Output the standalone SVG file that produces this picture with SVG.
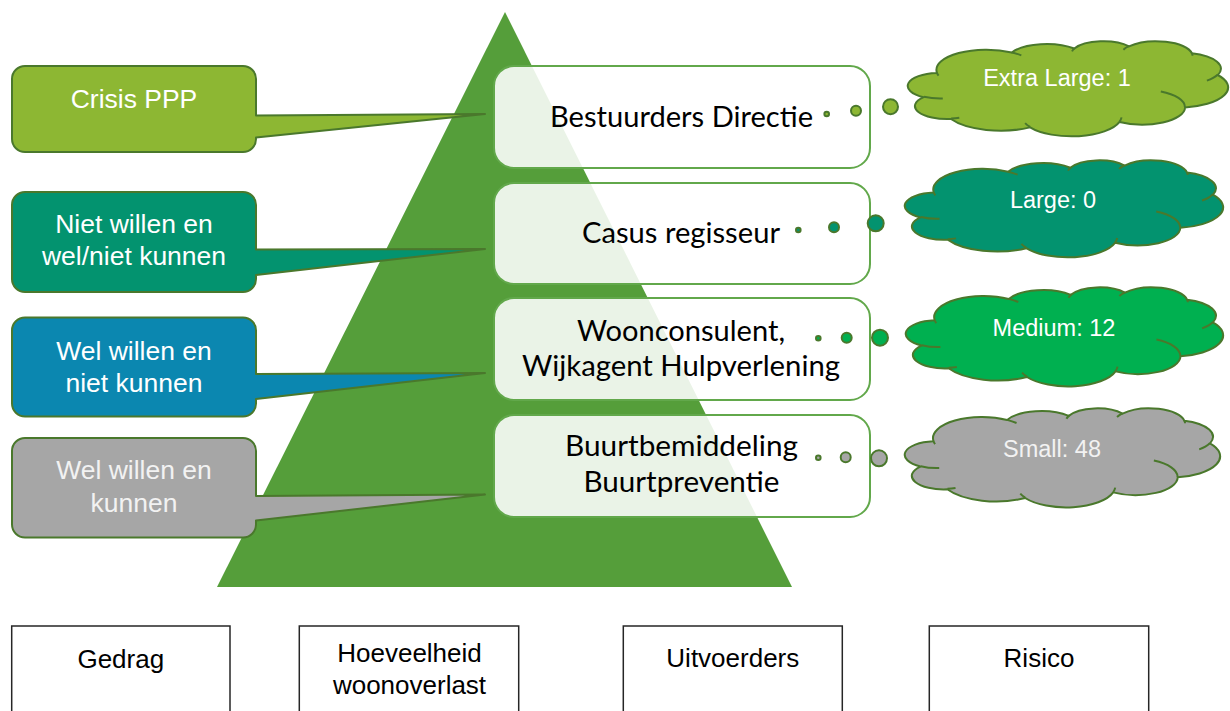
<svg xmlns="http://www.w3.org/2000/svg" width="1230" height="711" viewBox="0 0 1230 711">
<style>
.callout{stroke:#4A782C;stroke-width:2;stroke-linejoin:round}
.ctext{font-family:"Liberation Sans",Arial,sans-serif;font-size:26.5px;fill:#FFFFFF;text-anchor:middle}
.box{fill:#FFFFFF;fill-opacity:0.88;stroke:#62A84B;stroke-width:2}
.btext{font-family:Lato,"Open Sans",sans-serif;font-size:29px;fill:#000000;text-anchor:middle}
.cloud{stroke:#4A782C;stroke-width:2;stroke-linejoin:round}
.inner{fill:none;stroke:#4A782C;stroke-width:2}
.ktext{font-family:"Liberation Sans",Arial,sans-serif;font-size:23.5px;fill:#FFFFFF;text-anchor:middle}
.dot{stroke:#4A782C;stroke-width:2}
.lbl{fill:#FFFFFF;stroke:#262626;stroke-width:1.5}
.ltext{font-family:"Liberation Sans",Arial,sans-serif;font-size:26px;fill:#000000;text-anchor:middle}
.xl{fill:#8DB733}.lg{fill:#03936F}.md{fill:#00B050}.sm{fill:#A6A6A6}.bl{fill:#0B87B0}
</style>
<defs>
<path id="cloudShape" vector-effect="non-scaling-stroke" d="M3900 14370 A6753 9190 0 0 1 14005 5202 A5333 7267 0 0 1 22455 3433 A4365 5945 0 0 1 29833 2483 A4857 6595 0 0 1 38318 5579 A5333 7273 0 0 1 41819 15463 A6775 9220 0 0 1 37403 30204 A5785 7867 0 0 1 28555 36814 A6752 9215 0 0 1 16480 39266 A7720 10543 0 0 1 5804 35472 A4360 5918 0 0 1 2113 25549 A4345 5945 0 0 1 3863 14505 Z"/>
<path id="cloudInner" vector-effect="non-scaling-stroke" d="M4693 26177 A4345 5945 0 0 1 2160 25380 M6928 34899 A4360 5918 0 0 1 5820 35280 M16478 39090 A6752 9215 0 0 1 15810 37349 M28827 34751 A6752 9215 0 0 1 28560 36660 M34129 22954 A5785 7867 0 0 1 37380 30090 M41798 15354 A5333 7273 0 0 1 40350 18030 M38324 5426 A4857 6595 0 0 1 38400 6690 M29078 3952 A4857 6595 0 0 1 29820 2339 M22141 4720 A4365 5945 0 0 1 22500 3331 M14000 5192 A6753 9190 0 0 1 15299 6540 M4127 15789 A6753 9190 0 0 1 3900 14371"/>
</defs>
<rect width="1230" height="711" fill="#FFFFFF"/>

<g id="pyramid">
<path d="M505 12 L792 587 L217 587 Z" fill="#559E3A"/>
</g>

<g id="callout-crisis">
<path class="callout xl" d="M25 66 H243 A13 13 0 0 1 256 79 V115.5 L485 114 L256 137.5 V139 A13 13 0 0 1 243 152 H25 A13 13 0 0 1 12 139 V79 A13 13 0 0 1 25 66 Z"/>
<text class="ctext" x="134" y="107.5">Crisis PPP</text>
</g>
<g id="callout-niet-willen">
<path class="callout lg" d="M25 192 H243 A13 13 0 0 1 256 205 V249.5 L485 249 L256 275 V279 A13 13 0 0 1 243 292 H25 A13 13 0 0 1 12 279 V205 A13 13 0 0 1 25 192 Z"/>
<text class="ctext" x="134" y="233">Niet willen en</text>
<text class="ctext" x="134" y="265">wel/niet kunnen</text>
</g>
<g id="callout-wel-niet">
<path class="callout bl" d="M25 317.5 H243 A13 13 0 0 1 256 330.5 V374 L485 373 L256 399 V403.5 A13 13 0 0 1 243 416.5 H25 A13 13 0 0 1 12 403.5 V330.5 A13 13 0 0 1 25 317.5 Z"/>
<text class="ctext" x="134" y="359.5">Wel willen en</text>
<text class="ctext" x="134" y="391.5">niet kunnen</text>
</g>
<g id="callout-wel-kunnen">
<path class="callout sm" d="M25 438 H243 A13 13 0 0 1 256 451 V496 L485 494.5 L256 520.5 V524.5 A13 13 0 0 1 243 537.5 H25 A13 13 0 0 1 12 524.5 V451 A13 13 0 0 1 25 438 Z"/>
<text class="ctext" x="134" y="479" style="fill:#F2F2F2">Wel willen en</text>
<text class="ctext" x="134" y="511.5" style="fill:#F2F2F2">kunnen</text>
</g>

<g id="box-bestuurders">
<rect class="box" x="494" y="66" width="376" height="102" rx="20"/>
<text class="btext" x="681.5" y="127" textLength="263" lengthAdjust="spacingAndGlyphs">Bestuurders Directie</text>
</g>
<g id="box-casus">
<rect class="box" x="494" y="183" width="376" height="101" rx="20"/>
<text class="btext" x="681" y="243" textLength="198" lengthAdjust="spacingAndGlyphs">Casus regisseur</text>
</g>
<g id="box-woonconsulent">
<rect class="box" x="494" y="298" width="376" height="102" rx="20"/>
<text class="btext" x="681" y="340.5" textLength="208" lengthAdjust="spacingAndGlyphs">Woonconsulent,</text>
<text class="btext" x="681" y="376" textLength="318" lengthAdjust="spacingAndGlyphs">Wijkagent Hulpverlening</text>
</g>
<g id="box-buurt">
<rect class="box" x="494" y="415" width="376" height="102" rx="20"/>
<text class="btext" x="681.5" y="456" textLength="233" lengthAdjust="spacingAndGlyphs">Buurtbemiddeling</text>
<text class="btext" x="681.5" y="491.5" textLength="196" lengthAdjust="spacingAndGlyphs">Buurtpreventie</text>
</g>

<g id="connectors">
<circle class="dot xl" cx="826.7" cy="114" r="2.3"/>
<circle class="dot xl" cx="856" cy="110.7" r="5"/>
<circle class="dot xl" cx="890.5" cy="106.7" r="7.5"/>
<circle class="dot lg" cx="798.3" cy="230" r="2.3"/>
<circle class="dot lg" cx="834" cy="227.3" r="5"/>
<circle class="dot lg" cx="875.7" cy="223.3" r="8"/>
<circle class="dot md" cx="818.3" cy="338.3" r="2.3"/>
<circle class="dot md" cx="846.7" cy="337.7" r="5"/>
<circle class="dot md" cx="880" cy="337.7" r="8"/>
<circle class="dot sm" cx="818.3" cy="457.7" r="2.3"/>
<circle class="dot sm" cx="845.7" cy="457.3" r="5"/>
<circle class="dot sm" cx="879" cy="458.3" r="8"/>
</g>

<g id="cloud-xl">
<g transform="translate(908 41) scale(0.0074074 0.0021991)">
<use href="#cloudShape" class="cloud xl"/>
<use href="#cloudInner" class="inner"/>
</g>
<text class="ktext" x="1057" y="85.5">Extra Large: 1</text>
</g>
<g id="cloud-large">
<g transform="translate(905 160) scale(0.0073611 0.0022454)">
<use href="#cloudShape" class="cloud lg"/>
<use href="#cloudInner" class="inner"/>
</g>
<text class="ktext" x="1053" y="207.5">Large: 0</text>
</g>
<g id="cloud-medium">
<g transform="translate(906 287) scale(0.0073380 0.0022917)">
<use href="#cloudShape" class="cloud md"/>
<use href="#cloudInner" class="inner"/>
</g>
<text class="ktext" x="1054" y="336">Medium: 12</text>
</g>
<g id="cloud-small">
<g transform="translate(905 408) scale(0.0072917 0.0022917)">
<use href="#cloudShape" class="cloud sm"/>
<use href="#cloudInner" class="inner"/>
</g>
<text class="ktext" x="1052" y="457.3" style="fill:#F2F2F2">Small: 48</text>
</g>

<g id="label-gedrag">
<rect class="lbl" x="11.7" y="626" width="218.3" height="100"/>
<text class="ltext" x="120.8" y="667.7">Gedrag</text>
</g>
<g id="label-hoeveelheid">
<rect class="lbl" x="299.3" y="626" width="219.4" height="100"/>
<text class="ltext" x="409.5" y="661.7">Hoeveelheid</text>
<text class="ltext" x="409.5" y="693.7">woonoverlast</text>
</g>
<g id="label-uitvoerders">
<rect class="lbl" x="623.3" y="626" width="219" height="100"/>
<text class="ltext" x="732.8" y="667">Uitvoerders</text>
</g>
<g id="label-risico">
<rect class="lbl" x="929.3" y="626" width="219.4" height="100"/>
<text class="ltext" x="1039" y="667">Risico</text>
</g>
</svg>
